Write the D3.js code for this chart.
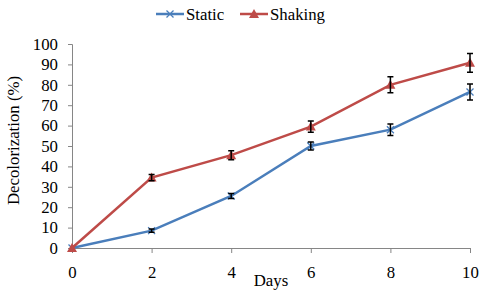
<!DOCTYPE html>
<html>
<head>
<meta charset="utf-8">
<script src="https://cdn.jsdelivr.net/npm/d3@7"></script>
<style>
  body { margin: 0; background: #fff; }
</style>
</head>
<body>
<div class="container"></div>
<script>
const days = [0, 2, 4, 6, 8, 10];
const staticVals = [0, 8.5, 25.5, 50, 58, 76.5];
const staticErr = [0, 0.8, 1.2, 2, 2.8, 3.9];
const shakingVals = [0, 34.5, 45.5, 59.5, 80, 90.8];
const shakingErr = [0, 1.5, 2.2, 2.8, 3.9, 4.6];
const yTicks = [0, 10, 20, 30, 40, 50, 60, 70, 80, 90, 100];

const WIDTH = 500, HEIGHT = 295;
const LEFT = 72, RIGHT = 470, TOP = 44, BOTTOM = 248;
const FONT = '"Liberation Serif", "Times New Roman", serif';
const FS = '16.8px';

let translate = (x, y) => `translate(${x},${y})`;

let xScale = d3.scaleLinear().domain([0, 10]).range([LEFT, RIGHT]);
let yScale = d3.scaleLinear().domain([0, 100]).range([BOTTOM, TOP]);

let svg = d3.select('.container').append('svg')
    .attr('width', WIDTH).attr('height', HEIGHT);

let styleText = sel => sel.style('font-family', FONT).style('font-size', FS).attr('fill', '#000');

// axes
let yAxis = d3.axisLeft(yScale).tickValues(yTicks).tickSize(4).tickPadding(10);
let gy = svg.append('g').attr('transform', translate(LEFT, 0)).call(yAxis);
gy.select('.domain').attr('stroke', '#868686');
gy.selectAll('.tick line').attr('stroke', '#868686');
styleText(gy.selectAll('.tick text'));

let xAxis = d3.axisBottom(xScale).tickValues(days).tickSize(5).tickPadding(13);
let gx = svg.append('g').attr('transform', translate(0, BOTTOM)).call(xAxis);
gx.select('.domain').attr('stroke', '#868686');
gx.selectAll('.tick line').attr('stroke', '#868686');
styleText(gx.selectAll('.tick text'));

styleText(svg.append('text').attr('x', 271).attr('y', 286).attr('text-anchor', 'middle').text('Days'));
styleText(svg.append('text').attr('transform', 'translate(18.5,140.5) rotate(-90)')
    .attr('text-anchor', 'middle').text('Decolorization (%)'));

let line = d3.line().x(d => xScale(d[0])).y(d => yScale(d[1]));

let series = [
  {name: 'Static', vals: staticVals, err: staticErr, color: '#4A7EBB', marker: 'x'},
  {name: 'Shaking', vals: shakingVals, err: shakingErr, color: '#BE4B48', marker: 'tri'}
];

let drawMarker = (g, type, color, x, y) => {
  if (type === 'x') {
    g.append('path').attr('d', `M${x-3.5},${y-3.5}L${x+3.5},${y+3.5}M${x-3.5},${y+3.5}L${x+3.5},${y-3.5}`)
      .attr('stroke', color).attr('stroke-width', 1.3).attr('fill', 'none');
  } else {
    g.append('path').attr('d', `M${x},${y-5}L${x+5},${y+4}L${x-5},${y+4}Z`).attr('fill', color);
  }
};

series.forEach(s => {
  let pts = days.map((d, i) => [d, s.vals[i]]);
  svg.append('path').attr('d', line(pts)).attr('fill', 'none')
    .attr('stroke', s.color).attr('stroke-width', 2.5);
  let g = svg.append('g');
  pts.forEach((p, i) => drawMarker(g, s.marker, s.color, xScale(p[0]), yScale(p[1])));
  // error bars
  let eg = svg.append('g');
  days.forEach((d, i) => {
    if (!s.err[i]) return;
    let x = xScale(d), y1 = yScale(s.vals[i] + s.err[i]), y2 = yScale(s.vals[i] - s.err[i]);
    eg.append('path').attr('d', `M${x},${y1}L${x},${y2}M${x-3},${y1}L${x+3},${y1}M${x-3},${y2}L${x+3},${y2}`)
      .attr('stroke', '#000').attr('stroke-width', 1.5).attr('fill', 'none');
  });
});

// legend
let legend = [{x: 156, s: series[0]}, {x: 240, s: series[1]}];
legend.forEach(l => {
  let g = svg.append('g');
  g.append('line').attr('x1', l.x).attr('x2', l.x + 28).attr('y1', 14).attr('y2', 14)
    .attr('stroke', l.s.color).attr('stroke-width', 2.5);
  drawMarker(g, l.s.marker, l.s.color, l.x + 14, 14);
  styleText(g.append('text').attr('x', l.x + 30).attr('y', 19.5).text(l.s.name));
});
</script>
</body>
</html>
